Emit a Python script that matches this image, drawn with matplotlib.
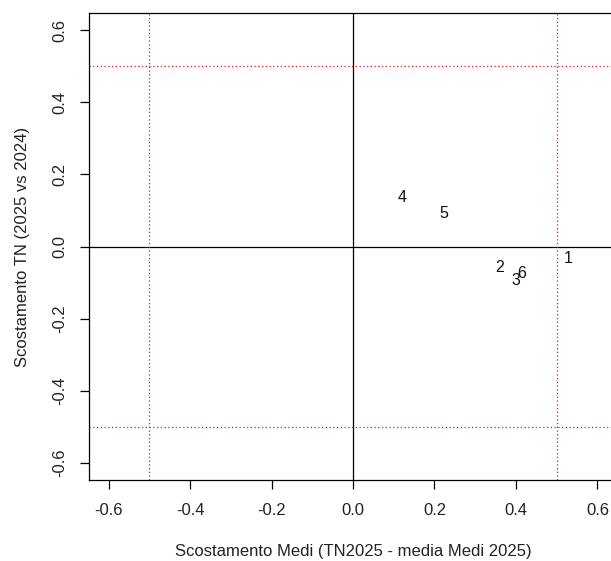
import matplotlib
matplotlib.use("Agg")
import matplotlib.pyplot as plt

labels = ["1", "2", "3", "4", "5", "6"]
x_vals = [0.527, 0.360, 0.400, 0.120, 0.223, 0.414]
y_vals = [-0.034, -0.059, -0.095, 0.137, 0.092, -0.076]
ticks = [-0.6, -0.4, -0.2, 0.0, 0.2, 0.4, 0.6]
thresholds = [-0.5, 0.5]

plt.rcParams['font.family'] = ['Liberation Sans', 'DejaVu Sans']
W, H = 611, 561
fig = plt.figure(figsize=(W/100, H/100), dpi=100)
left, right, top, bottom = 89, 617, 13, 480
ax = fig.add_axes([left/W, 1-bottom/H, (right-left)/W, (bottom-top)/H])
ax.set_xlim(-0.648, 0.648)
ax.set_ylim(-0.648, 0.648)

for lab, x, y in zip(labels, x_vals, y_vals):
    ax.text(x, y, lab, ha='center', va='center', fontsize=11.5, color='#111111')

ax.axhline(0, color='black', lw=0.9)
ax.axvline(0, color='black', lw=0.9)
for t in thresholds:
    ax.axhline(t, color='#d02020', lw=0.9, linestyle=(0, (1, 2)))
    ax.axvline(t, color='#d02020', lw=0.9, linestyle=(0, (1, 2)))

ax.set_xticks(ticks)
ax.set_yticks(ticks)
ax.set_xticklabels([f"{t:.1f}" for t in ticks], fontsize=12, color='#222222')
ax.set_yticklabels([f"{t:.1f}" for t in ticks], fontsize=12, rotation=90, va='center', color='#222222')
ax.tick_params(axis='x', direction='out', length=6.5, width=0.9, pad=10)
ax.tick_params(axis='y', direction='out', length=6.5, width=0.9, pad=9)
for s in ax.spines.values():
    s.set_linewidth(0.9)

ax.set_xlabel("Scostamento Medi (TN2025 - media Medi 2025)", fontsize=12, labelpad=19, color='#222222')
ax.set_ylabel("Scostamento TN (2025 vs 2024)", fontsize=12, labelpad=16, color='#222222')

fig.savefig("out.png", dpi=100)
